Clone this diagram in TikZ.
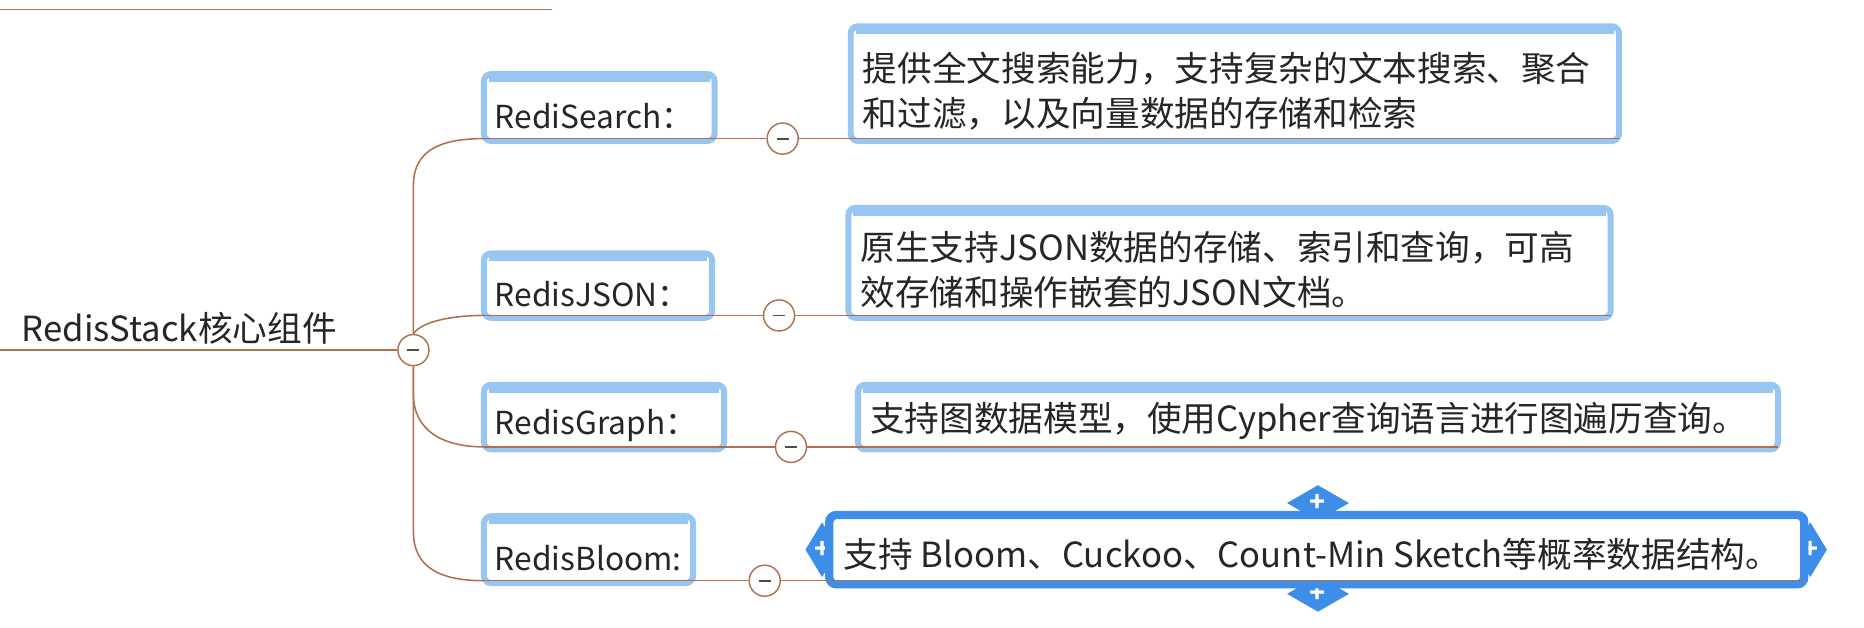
\documentclass[tikz,border=0pt]{standalone}
\usepackage{fontspec}
\setmainfont{Noto Sans CJK SC}
\usetikzlibrary{shapes.geometric}
\definecolor{br}{HTML}{B07050}
\definecolor{lb}{HTML}{98C6F2}
\definecolor{sb}{HTML}{3D8EE8}
\tikzset{
 box/.style={draw=lb,line width=5pt,rounded corners=6pt,fill=white},
 sel/.style={draw=sb,line width=7pt,rounded corners=6pt,fill=white},
 txt/.style={anchor=west,inner sep=0pt,font=\fontsize{29pt}{38pt}\selectfont,align=left,text=black!85},
 lab/.style={txt,font=\fontsize{26.5pt}{30pt}\selectfont},
 ln/.style={draw=br,line width=1.3pt},
 tog/.style={circle,draw=br,line width=1.2pt,fill=white,minimum size=26pt,inner sep=0pt,
   path picture={\draw[black!70,line width=1.5pt] ([xshift=-5pt]path picture bounding box.center) -- ([xshift=5pt]path picture bounding box.center);}},
 dia/.style={diamond,fill=sb,minimum width=52pt,minimum height=30pt,inner sep=0pt,text=white,font=\bfseries\fontsize{22pt}{22pt}\selectfont}
}
\begin{document}
\begin{tikzpicture}[x=1pt,y=-1pt]
\useasboundingbox (0,0) rectangle (1560,525);
% top cut-off line
\draw[ln] (0,8) -- (462,8);
% root
\node[txt] (root) at (18,275) {RedisStack核心组件};
\node[tog] (c0) at (346,293) {};
\draw[ln] (0,293) -- (c0.west);
% branch boxes
\foreach \n/\xa/\xb/\ya/\yb/\t in {a/405/598/62/118/RediSearch：,b/405/596/212/266/RedisJSON：,c/405/606/322/376/RedisGraph：,d/405/580/432/488/RedisBloom:}{
  \draw[box] (\xa,\ya) rectangle (\xb,\yb);
  \draw[lb,line width=7pt] (\xa+4,\ya+3) -- (\xb-4,\ya+3);
  \node[lab] (t\n) at (\xa+9,{(\ya+\yb)/2+7}) {\t};
}
% description boxes
\draw[box] (712,22) rectangle (1355,118);
\draw[lb,line width=7pt] (716,25) -- (1351,25);
\node[txt] (da) at (722,76) {提供全文搜索能力，支持复杂的文本搜索、聚合\\和过滤，以及向量数据的存储和检索};
\draw[box] (710,174) rectangle (1348,266);
\draw[lb,line width=7pt] (714,177) -- (1344,177);
\node[txt] (db) at (720,226) {原生支持JSON数据的存储、索引和查询，可高\\效存储和操作嵌套的JSON文档。};
\draw[box] (718,322) rectangle (1488,376);
\draw[lb,line width=7pt] (722,325) -- (1484,325);
\node[txt] (dc) at (728,352) {支持图数据模型，使用Cypher查询语言进行图遍历查询。};
\node[dia] (p1) at (1103,421) {+};
\node[dia] (p2) at (1103,497) {+};
\node[dia,minimum width=28pt,minimum height=46pt] (p3) at (688,460) {+};
\node[dia,minimum width=28pt,minimum height=46pt] (p4) at (1515,460) {+};
\draw[sel] (694,431) rectangle (1510,489);
\node[txt] (dd) at (706,464) {支持 Bloom、Cuckoo、Count-Min Sketch等概率数据结构。};
% underlines and connectors
\draw[ln] (405,116) -- (598,116);
\draw[ln] (405,264) -- (596,264);
\draw[ln] (405,374) -- (606,374);
\draw[ln] (405,486) -- (580,486);
\draw[ln] (712,116) -- (1355,116);
\draw[ln] (710,264) -- (1348,264);
\draw[ln] (718,374) -- (1488,374);
\draw[ln] (694,486) -- (1510,486);
\draw[ln] (c0.north) -- (346,155) .. controls (346,125) and (370,116) .. (405,116);
\draw[ln] (c0.north) .. controls (352,270) and (375,264) .. (405,264);
\draw[ln] (c0.south) -- (346,330) .. controls (346,360) and (370,374) .. (405,374);
\draw[ln] (c0.south) -- (346,445) .. controls (346,476) and (370,486) .. (405,486);
\foreach \n/\xb/\cx/\y/\xd in {a/598/655/116/712,b/596/652/264/710,c/606/662/374/718,d/580/640/486/694}{
  \node[tog] (k\n) at (\cx,\y) {};
  \draw[ln] (\xb,\y) -- (k\n.west);
  \draw[ln] (k\n.east) -- (\xd,\y);
}
\end{tikzpicture}
\end{document}
